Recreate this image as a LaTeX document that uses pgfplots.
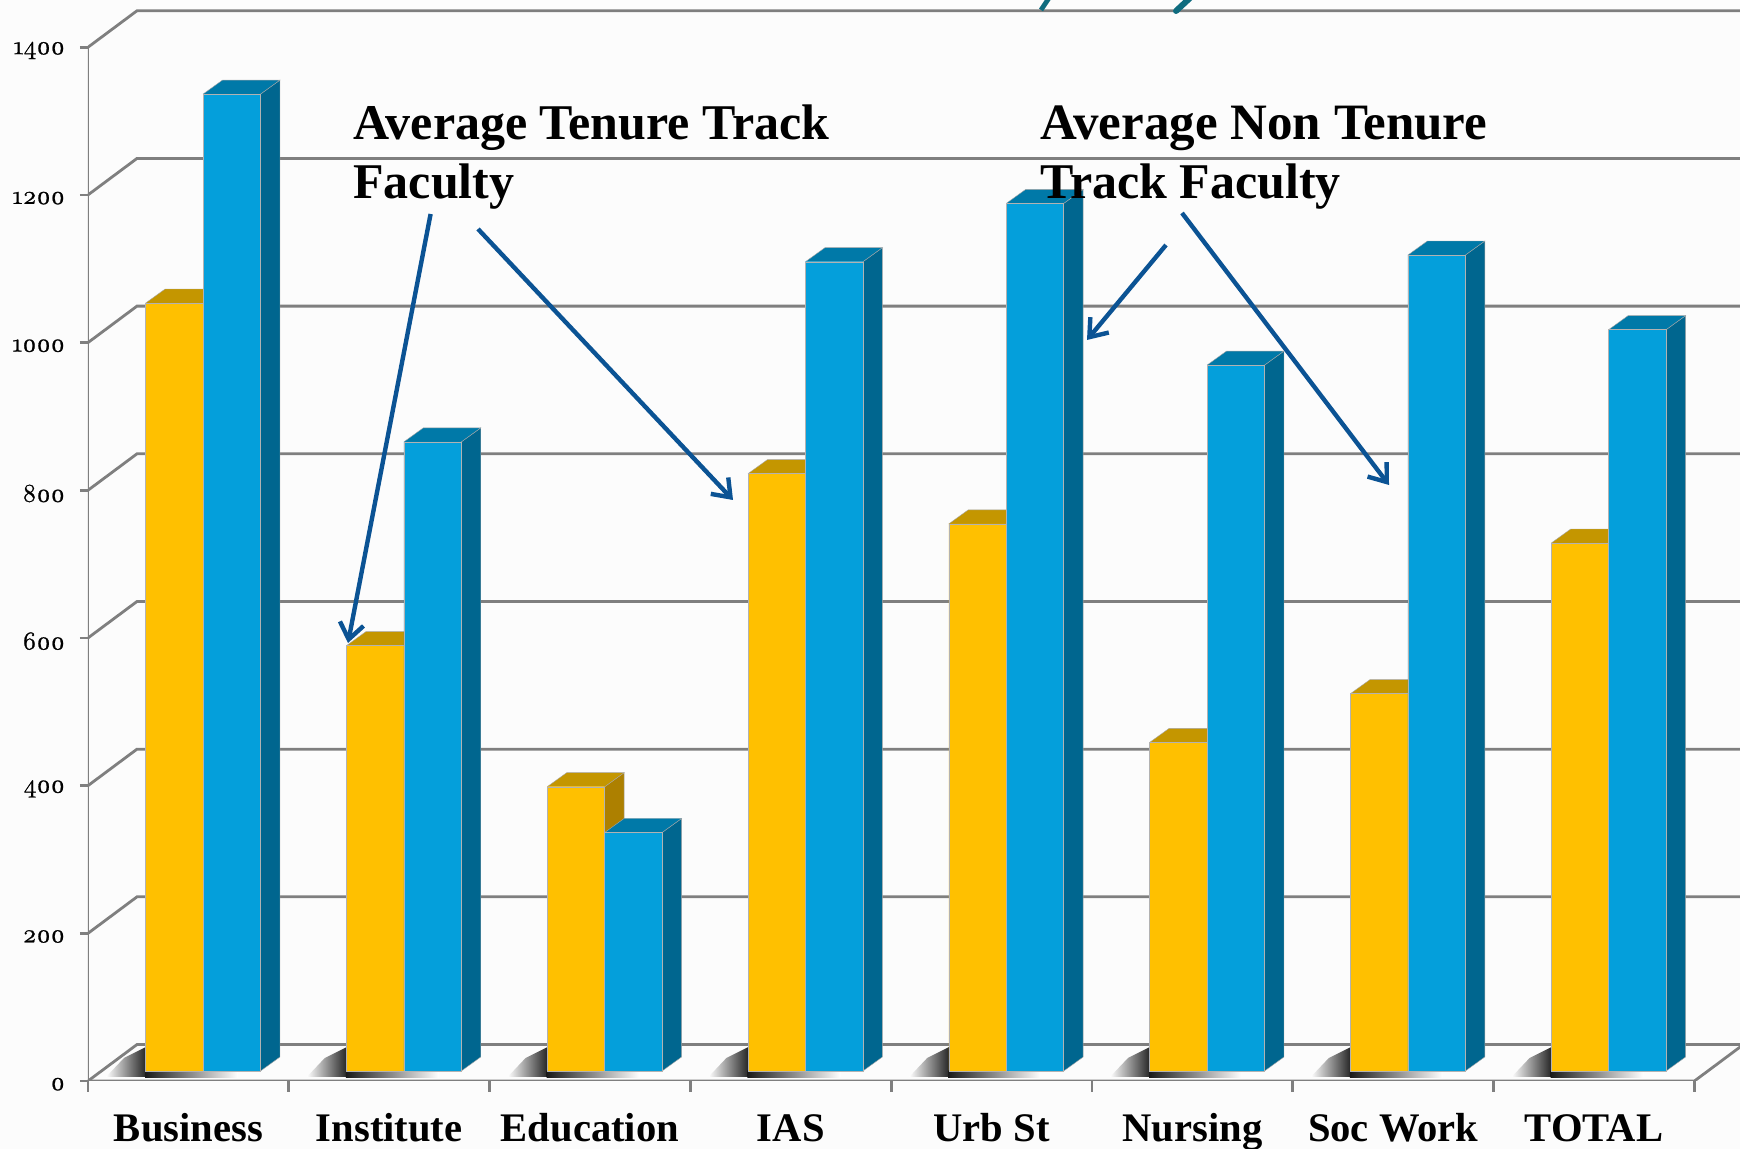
\documentclass[border=0pt]{standalone}
\usepackage{fontspec}
\setmainfont{Liberation Serif}
\newfontfamily\tickfont[Numbers=OldStyle,FakeBold=0.9]{Latin Modern Roman}
\usepackage{pgfplots}
\usepackage{pgfplotstable}
\pgfplotsset{compat=1.18}
\usetikzlibrary{arrows.meta}
\definecolor{gridc}{HTML}{7F7F7F}
\definecolor{yfront}{HTML}{FFC000}
\definecolor{ytop}{HTML}{C49600}
\definecolor{yside}{HTML}{AD8000}
\definecolor{bfront}{HTML}{049FDB}
\definecolor{btop}{HTML}{0079A8}
\definecolor{bside}{HTML}{00668F}
\definecolor{arrowc}{HTML}{0B5394}
\definecolor{teal1}{HTML}{0F6C7F}
\pgfplotstableread{
x     yellow blue
0.573 1040 1323
1.573 576  852
2.573 385  323
3.573 809  1096
4.573 741  1175
5.573 445  956
6.573 511  1105
7.573 715  1004
}\datatable
\pgfplotstableread{
dx dy fv
0 0 1
0.097 19 1
0.097 19 0
0 0 0
}\sidetpl
\pgfplotstableread{
dx dy
-0.286 0
-0.189 19
0.097 19
0 0
}\toptpl
\newcommand{\faces}[4]{%
  \addplot[fill=#4,draw=black!35,line width=.2pt,forget plot] table[x expr={#1+\thisrow{dx}},y expr={#2*\thisrow{fv}+\thisrow{dy}}]{\sidetpl};
  \addplot[fill=#3,draw=black!35,line width=.2pt,forget plot] table[x expr={#1+\thisrow{dx}},y expr={#2+\thisrow{dy}}]{\toptpl};
}
\begin{document}
\begin{tikzpicture}
\useasboundingbox (-44pt,-34pt) rectangle (826pt,540.5pt);
\fill[black!1] (-44pt,-34pt) rectangle (826pt,540.5pt);
% walls
\begin{axis}[
  at={(0,0)},anchor=south west,
  scale only axis,width=826pt,height=540.5pt,
  xmin=0,xmax=8.227,ymin=0,ymax=1464,
  axis line style={draw=none},
  tick align=outside,
  xtick pos=bottom,ytick pos=left,
  tick style={gridc,line width=1.4pt},
  major x tick style={draw=none},
  major tick length=4pt,minor tick length=5.5pt,
  xtick={0.5,1.5,2.5,3.5,4.5,5.5,6.5,7.5},
  xticklabels={Business,Institute,Education,IAS,Urb St,Nursing,Soc Work,TOTAL},
  minor xtick={0,1,2,3,4,5,6,7,8},
  ytick={0,200,400,600,800,1000,1200,1400},
  yticklabels={0,200,400,600,800,1000,1200,1400},
  xticklabel style={font=\fontsize{20.3}{22}\selectfont\bfseries,anchor=base,yshift=-26.5pt},
  yticklabel style={font=\fontsize{12.8}{14}\tickfont,anchor=east,xshift=-4pt,yshift=-1.6pt},
]
\addplot[gridc,line width=1.4pt] coordinates {(0,0) (0,1400)};
\addplot[gridc,line width=1.4pt] coordinates {(0,0) (8,0) (8.244,49.4) (8.3,49.4)};
\addplot[gridc,line width=1.4pt] coordinates {(0,0) (0.244,49.4) (8.3,49.4)};
\addplot[gridc,line width=1.4pt] coordinates {(0,200) (0.244,249.4) (8.3,249.4)};
\addplot[gridc,line width=1.4pt] coordinates {(0,400) (0.244,449.4) (8.3,449.4)};
\addplot[gridc,line width=1.4pt] coordinates {(0,600) (0.244,649.4) (8.3,649.4)};
\addplot[gridc,line width=1.4pt] coordinates {(0,800) (0.244,849.4) (8.3,849.4)};
\addplot[gridc,line width=1.4pt] coordinates {(0,1000) (0.244,1049.4) (8.3,1049.4)};
\addplot[gridc,line width=1.4pt] coordinates {(0,1200) (0.244,1249.4) (8.3,1249.4)};
\addplot[gridc,line width=1.4pt] coordinates {(0,1400) (0.244,1449.4) (8.3,1449.4)};
\end{axis}
% shadows
\begin{scope}[x=0.5pt,y=-0.5pt,shift={(-44pt,540.5pt)}]
\foreach \i in {0,...,7}{
  \begin{scope}[xshift=\i*100.4pt]
  \shade[left color=white,right color=black!90] (106,1077) -- (124,1058) -- (148,1046) -- (148,1077) -- cycle;
  \shade[left color=black!90,right color=white] (145,1071) rectangle (238,1078);
  \end{scope}
}
\end{scope}
% bars
\begin{axis}[
  at={(0,0)},anchor=south west,
  scale only axis,width=826pt,height=540.5pt,
  xmin=0,xmax=8.227,ymin=-13.54,ymax=1450.46,
  hide axis,
]
\faces{0.573}{1040}{ytop}{yside}
\faces{1.573}{576}{ytop}{yside}
\faces{2.573}{385}{ytop}{yside}
\faces{3.573}{809}{ytop}{yside}
\faces{4.573}{741}{ytop}{yside}
\faces{5.573}{445}{ytop}{yside}
\faces{6.573}{511}{ytop}{yside}
\faces{7.573}{715}{ytop}{yside}
\addplot[ybar,bar width=28.7pt,bar shift=-14.35pt,fill=yfront,draw=black!30,line width=.2pt] table[x=x,y=yellow]{\datatable};
\faces{0.859}{1323}{btop}{bside}
\faces{1.859}{852}{btop}{bside}
\faces{2.859}{323}{btop}{bside}
\faces{3.859}{1096}{btop}{bside}
\faces{4.859}{1175}{btop}{bside}
\faces{5.859}{956}{btop}{bside}
\faces{6.859}{1105}{btop}{bside}
\faces{7.859}{1004}{btop}{bside}
\addplot[ybar,bar width=28.7pt,bar shift=14.35pt,fill=bfront,draw=black!30,line width=.2pt] table[x=x,y=blue]{\datatable};
\end{axis}
% annotations (image pixel coordinates)
\begin{scope}[x=0.5pt,y=-0.5pt,shift={(-44pt,540.5pt)}]
  \clip (0,0) rectangle (1740,1149);
  \draw[teal1,line width=2.4pt] (1049,-2) -- (1041,10);
  \draw[teal1,line width=3pt,line cap=round] (1190,-2) -- (1176,11);
  \node[anchor=base west,inner sep=0pt,font=\fontsize{25}{27}\selectfont\bfseries] at (353,140) {Average Tenure Track};
  \node[anchor=base west,inner sep=0pt,font=\fontsize{25}{27}\selectfont\bfseries] at (353,199) {Faculty};
  \node[anchor=base west,inner sep=0pt,font=\fontsize{25.5}{27}\selectfont\bfseries] at (1040,140) {Average Non Tenure};
  \node[anchor=base west,inner sep=0pt,font=\fontsize{25}{27}\selectfont\bfseries] at (1040,199) {Track Faculty};
  \begin{scope}[arrowc,line width=2.2pt,-{Straight Barb[length=8pt,width=12pt]}]
  \draw (430.6,214) -- (348,643);
  \draw (478,229) -- (733,500);
  \draw (1166,245) -- (1087,340);
  \draw (1182,213) -- (1389,485);
  \end{scope}
\end{scope}
\end{tikzpicture}
\end{document}
